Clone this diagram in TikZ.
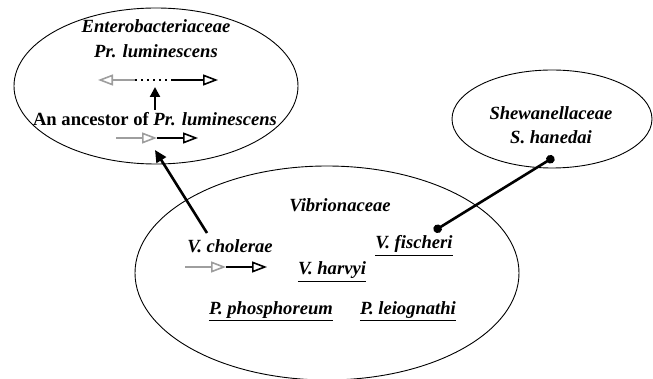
\documentclass[tikz,border=0pt]{standalone}
\usepackage{fontspec}
\setmainfont{Liberation Serif}
\usetikzlibrary{arrows.meta,shapes.geometric}
\begin{document}
\begin{tikzpicture}[x=1pt,y=-1pt,
  lab/.style={font=\fontsize{18.6}{20}\selectfont\bfseries\itshape, inner sep=0pt, anchor=base},
  fam/.style={draw, ellipse, line width=0.9pt, inner sep=0pt},
  opentip/.style={-{Triangle[open,length=15pt,width=11pt,line width=1.6pt]}},
  gre/.style={draw=black!38, line width=1.6pt, opentip},
  blk/.style={draw=black, line width=1.6pt, opentip},
  link/.style={line width=2.6pt},
  uline/.style={line width=1.5pt}
]
\useasboundingbox (0,0) rectangle (653,379);
% families
\node[fam, minimum width=284pt, minimum height=156pt] (entero) at (156,86) {};
\node[fam, minimum width=200pt, minimum height=98pt] (shew) at (552,119) {};
\node[fam, minimum width=384pt, minimum height=214pt] (vib) at (327,273) {};
% labels
\node[lab] (entT) at (156,33) {Enterobacteriaceae};
\node[lab] (prl) at (156,58) {Pr. luminescens};
\node[lab] (anc) at (155,126) {\upshape An ancestor of \itshape Pr. luminescens};
\node[lab] (shT) at (551,120) {Shewanellaceae};
\node[lab] (shn) at (551,144) {S. hanedai};
\node[lab] (vibT) at (340,212) {Vibrionaceae};
\node[lab] (vch) at (230,253) {V. cholerae};
\node[lab] (vha) at (332,275) {V. harvyi};
\node[lab] (vfi) at (414,249) {V. fischeri};
\node[lab] (pph) at (271,314) {P. phosphoreum};
\node[lab] (ple) at (408,314) {P. leiognathi};
% underlines
\foreach \n in {vha,vfi,pph,ple}
  \draw[uline] ([yshift=-6.5pt]\n.base west) -- ([yshift=-6.5pt]\n.base east);
% top gene arrows (Pr. luminescens)
\coordinate (t1) at (98,80);
\coordinate (t2) at (135,80);
\coordinate (t3) at (173,80);
\coordinate (t4) at (218,80);
\draw[gre] (t2) -- (t1);
\draw[line width=1.5pt, dash pattern=on 1.5pt off 4.5pt] (t2) -- (t3);
\draw[blk] (t3) -- (t4);
% vertical arrow
\coordinate (v1) at (155,110);
\coordinate (v2) at (155,87);
\draw[line width=2.2pt, -{Triangle[length=10pt,width=10pt]}] (v1) -- (v2);
% ancestor arrows
\coordinate (a1) at (116,138);
\coordinate (a2) at (157,138);
\coordinate (a3) at (198,138);
\draw[gre] (a1) -- (a2);
\draw[blk] (a2) -- (a3);
% V. cholerae arrows
\coordinate (c1) at (185,267);
\coordinate (c2) at (226,267);
\coordinate (c3) at (267,267);
\draw[gre] (c1) -- (c2);
\draw[blk] (c2) -- (c3);
% connectors
\coordinate (lc) at (207,233);
\coordinate (la) at (155,150);
\draw[link, -{Triangle[length=12pt,width=11pt]}] (lc) -- (la);
\coordinate (df) at (434,231);
\coordinate (ds) at (554,157);
\draw[link, {Circle[length=8.5pt]}-{Circle[length=8.5pt]}] (df) -- (ds);
\end{tikzpicture}
\end{document}
